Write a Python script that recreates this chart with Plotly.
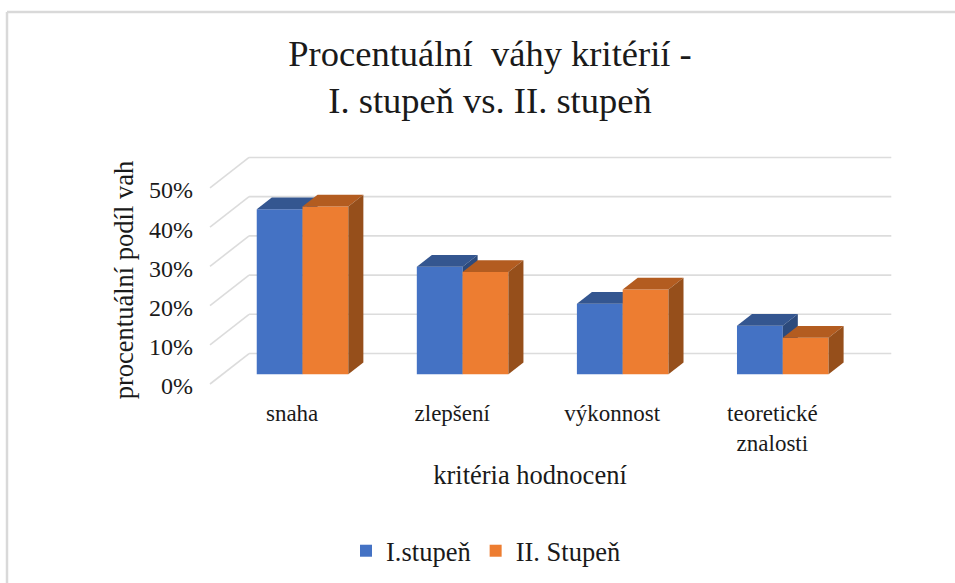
import plotly.graph_objects as go

categories = ["snaha", "zlepšení", "výkonnost", "teoretické<br>znalosti"]
stupen_1 = [42.1, 27.4, 18.0, 12.4]
stupen_2 = [42.8, 26.1, 21.6, 9.3]
y_ticks = [0, 10, 20, 30, 40, 50]
y_tick_labels = ["0%", "10%", "20%", "30%", "40%", "50%"]

FONT = "Liberation Serif"
TXT = "#1a1a1a"
BAR_W = 0.286
DX, DY = 0.094, 3.0            # bar depth in axis units
WALL_DX, FRONT_Y, BACK_Y = 0.244, -2.47, 5.3   # wall offsets in axis units
WALL_END = 3.678
LABEL_Y = -2.97
XR = [-0.578, 3.42]
YR = [-4.0, 52.1]
xs = list(range(len(categories)))

L, R, T, B = 210, 850, 170, 390
frame = dict(type="line", xref="paper", yref="paper", line=dict(color="#d9d9d9", width=2.5))
px = lambda p: (p - L) / (R - L)
py = lambda p: (B - p) / (B - T)
dx = lambda v: (v - XR[0]) / (XR[1] - XR[0])
dy = lambda v: (v - YR[0]) / (YR[1] - YR[0])

# gridlines: floor-to-wall diagonal, then along the back wall
grid_style = dict(type="line", xref="paper", yref="paper", layer="below",
                  line=dict(color="#dcdcdc", width=1.6))
grid_shapes = []
for v in y_ticks:
    grid_shapes.append(dict(grid_style, x0=dx(XR[0]), y0=dy(v + FRONT_Y),
                            x1=dx(XR[0] + WALL_DX), y1=dy(v + BACK_Y)))
    grid_shapes.append(dict(grid_style, x0=dx(XR[0] + WALL_DX), y0=dy(v + BACK_Y),
                            x1=dx(WALL_END), y1=dy(v + BACK_Y)))

fig = go.Figure()


def add_series(values, name, front, top, side, offset, xa, ya):
    fig.add_trace(go.Bar(x=xs, y=values, name=name, width=BAR_W, offset=offset,
                         marker=dict(color=front, line=dict(width=0)), xaxis=xa, yaxis=ya))
    for i, v in zip(xs, values):
        l, r = i + offset, i + offset + BAR_W
        fig.add_trace(go.Scatter(x=[l, r, r + DX, l + DX, l], y=[v, v, v + DY, v + DY, v],
                                 fill="toself", fillcolor=top, mode="none", showlegend=False,
                                 hoverinfo="skip", xaxis=xa, yaxis=ya))
        fig.add_trace(go.Scatter(x=[r, r + DX, r + DX, r, r], y=[0, DY, v + DY, v, 0],
                                 fill="toself", fillcolor=side, mode="none", showlegend=False,
                                 hoverinfo="skip", xaxis=xa, yaxis=ya))


add_series(stupen_1, "I.stupeň", "#4472C4", "#345690", "#2C4A7C", -BAR_W, "x", "y")
add_series(stupen_2, "II. Stupeň", "#ED7D31", "#B35C20", "#964F1B", 0, "x2", "y2")

fig.update_layout(
    width=955, height=583, autosize=False,
    margin=dict(l=L, r=955 - R, t=T, b=583 - B, pad=0),
    paper_bgcolor="white", plot_bgcolor="rgba(0,0,0,0)",
    font=dict(family=FONT, size=20, color=TXT),
    title=dict(text="Procentuální  váhy kritérií -<br>I. stupeň vs. II. stupeň",
               font=dict(family=FONT, size=36.5, color=TXT),
               x=490 / 955, xanchor="center", y=1 - 66 / 583, yanchor="top"),
    xaxis=dict(range=XR, tickmode="array", tickvals=[i - 0.065 for i in xs], ticktext=categories,
               showgrid=False, zeroline=False, showline=False, ticks="", ticklabelstandoff=7,
               tickfont=dict(family=FONT, size=23, color=TXT),
               title=dict(text="kritéria hodnocení", standoff=10, font=dict(family=FONT, size=26.5, color=TXT))),
    yaxis=dict(range=YR, tickmode="array", tickvals=[v + LABEL_Y for v in y_ticks], ticktext=y_tick_labels,
               showgrid=False, zeroline=False, showline=False, ticks="", ticklabelstandoff=16,
               tickfont=dict(family=FONT, size=24, color=TXT),
               title=dict(text="procentuální podíl vah", standoff=7, font=dict(family=FONT, size=26.5, color=TXT))),
    xaxis2=dict(range=XR, overlaying="x", visible=False),
    yaxis2=dict(range=YR, overlaying="y", visible=False),
    legend=dict(orientation="h", x=346 / 955, xref="container", y=1 - 527 / 583, yref="container",
                yanchor="top", font=dict(family=FONT, size=26.5, color=TXT), itemclick=False),
    shapes=grid_shapes + [dict(frame, x0=px(7), x1=px(7), y0=py(12), y1=py(583)),
                          dict(frame, x0=px(7), x1=px(955), y0=py(12), y1=py(12))],
)

fig.write_html("out.html", config=dict(displayModeBar=False),
               post_script="document.body.style.margin='0';document.documentElement.style.overflow='hidden';")
